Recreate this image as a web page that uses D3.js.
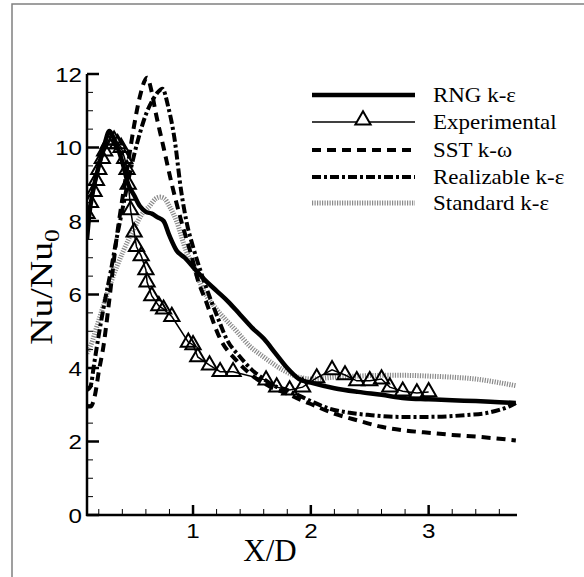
<!DOCTYPE html>
<html><head><meta charset="utf-8">
<script src="https://cdn.jsdelivr.net/npm/d3@7"></script>
<style>html,body{margin:0;padding:0;background:#fff;}svg{display:block;}</style>
</head><body>
<script>
// ---- data ----
const rngX = [0.10,0.12,0.15,0.20,0.25,0.29,0.32,0.36,0.40,0.45,0.50,0.55,0.60,0.65,0.70,0.75,0.80,0.86,0.93,1.00,1.10,1.20,1.30,1.40,1.50,1.60,1.70,1.80,1.90,2.00,2.20,2.40,2.60,2.80,3.00,3.20,3.40,3.60,3.74];
const rngY = [7.5,8.2,8.8,9.5,10.1,10.45,10.3,10.0,9.6,9.0,8.7,8.4,8.25,8.2,8.1,8.0,7.6,7.2,7.0,6.75,6.4,6.1,5.8,5.45,5.1,4.8,4.4,4.0,3.7,3.6,3.45,3.35,3.27,3.18,3.15,3.12,3.1,3.07,3.05];

const expX = [0.10,0.13,0.16,0.18,0.20,0.23,0.25,0.28,0.30,0.33,0.36,0.39,0.42,0.44,0.45,0.46,0.47,0.50,0.52,0.56,0.60,0.61,0.65,0.71,0.75,0.82,0.96,1.00,1.04,1.14,1.23,1.34,1.62,1.71,1.82,1.93,2.05,2.18,2.29,2.39,2.50,2.60,2.67,2.78,2.90,3.00];
const expY = [8.2,8.5,8.8,9.1,9.4,9.7,9.9,10.1,10.2,10.2,10.1,10.0,9.7,9.4,9.0,8.7,8.3,7.7,7.3,7.05,6.67,6.34,5.96,5.69,5.6,5.4,4.7,4.63,4.3,4.08,3.9,3.9,3.67,3.48,3.4,3.48,3.73,3.95,3.81,3.65,3.65,3.7,3.48,3.37,3.32,3.35];

const sstX = [0.10,0.13,0.17,0.20,0.24,0.28,0.32,0.35,0.40,0.45,0.50,0.55,0.61,0.65,0.68,0.75,0.82,0.90,1.00,1.04,1.10,1.23,1.37,1.50,1.65,1.80,1.90,2.00,2.18,2.40,2.60,2.80,3.03,3.20,3.45,3.74];
const sstY = [2.95,2.95,3.3,3.9,4.6,5.6,6.7,7.5,8.6,9.6,10.6,11.4,11.9,11.5,11.0,10.0,9.0,8.0,6.9,6.4,5.9,4.8,4.2,3.8,3.5,3.3,3.15,3.02,2.78,2.57,2.4,2.3,2.23,2.18,2.12,2.03];

const realX = [0.10,0.13,0.16,0.20,0.25,0.30,0.35,0.40,0.45,0.50,0.55,0.60,0.65,0.70,0.74,0.79,0.84,0.90,0.95,1.00,1.10,1.20,1.29,1.40,1.50,1.60,1.70,1.80,1.90,2.00,2.15,2.33,2.50,2.75,3.00,3.32,3.50,3.60,3.68,3.74];
const realY = [3.4,3.5,4.1,4.9,5.8,6.6,7.5,8.3,9.1,9.8,10.4,10.9,11.25,11.5,11.6,11.1,10.3,8.8,7.9,7.3,6.3,5.45,4.76,4.3,3.95,3.7,3.5,3.4,3.25,3.1,2.9,2.78,2.72,2.67,2.67,2.72,2.78,2.86,2.95,3.05];

const stdX = [0.10,0.13,0.20,0.30,0.41,0.50,0.57,0.63,0.68,0.72,0.76,0.80,0.86,0.94,1.00,1.09,1.20,1.37,1.48,1.60,1.76,1.90,2.00,2.20,2.40,2.60,2.80,3.00,3.20,3.40,3.60,3.74];
const stdY = [4.4,4.6,5.3,6.3,7.2,7.8,8.2,8.4,8.6,8.65,8.6,8.4,8.0,7.2,6.8,6.1,5.6,5.0,4.6,4.3,3.95,3.75,3.7,3.75,3.78,3.8,3.8,3.78,3.75,3.7,3.6,3.52];

const xTicks = [1,2,3];
const yTicks = [0,2,4,6,8,10,12];
const legendLabels = ["RNG k-ε","Experimental","SST k-ω","Realizable k-ε","Standard k-ε"];

// ---- drawing ----
const W = 584, H = 577;
const svg = d3.select("body").append("svg").attr("width", W).attr("height", H);

svg.append("path").attr("d", `M12,${H} L12,4 L${W},4`).attr("fill","none").attr("stroke","#808080").attr("stroke-width",1.5);

const x = d3.scaleLinear().domain([0.1, 3.75]).range([87, 517]);
const y = d3.scaleLinear().domain([0, 12]).range([515, 74]);

const clipId = "clip";
svg.append("clipPath").attr("id", clipId).append("rect").attr("x",87).attr("y",60).attr("width",440).attr("height",456);

const line = d3.line().x(d => x(d[0])).y(d => y(d[1])).curve(d3.curveMonotoneX);
const zip = (a, b) => a.map((v, i) => [v, b[i]]);

const g = svg.append("g").attr("clip-path", `url(#${clipId})`);

const styles = {
  std: {stroke:"#8a8a8a", width:5, dash:"1.2,1.3"},
  real:{stroke:"#000", width:4, dash:"9,3,3,3"},
  sst: {stroke:"#000", width:4, dash:"9,6"},
  rng: {stroke:"#000", width:4.5, dash:null},
  exp: {stroke:"#000", width:1.5, dash:null}
};
function drawLine(xs, ys, s) {
  g.append("path").datum(zip(xs, ys)).attr("d", line)
    .attr("fill","none").attr("stroke", s.stroke).attr("stroke-width", s.width)
    .attr("stroke-dasharray", s.dash);
}
drawLine(stdX, stdY, styles.std);
drawLine(realX, realY, styles.real);
drawLine(sstX, sstY, styles.sst);
drawLine(rngX, rngY, styles.rng);
g.append("path").datum(zip(expX, expY)).attr("d", d3.line().x(d=>x(d[0])).y(d=>y(d[1])))
  .attr("fill","none").attr("stroke","#000").attr("stroke-width",1.5);

const tri = d3.symbol().type(d3.symbolTriangle).size(100);
g.selectAll(".tri").data(zip(expX, expY)).enter().append("path")
  .attr("transform", d => `translate(${x(d[0])},${y(d[1])})`)
  .attr("d", tri).attr("fill","none").attr("stroke","#000").attr("stroke-width",2);

// axes
const axG = svg.append("g");
axG.append("line").attr("x1",87).attr("x2",87).attr("y1",y(12)).attr("y2",y(0)+1).attr("stroke","#000").attr("stroke-width",2.5);
axG.append("line").attr("x1",86).attr("x2",x(3.75)).attr("y1",y(0)).attr("y2",y(0)).attr("stroke","#000").attr("stroke-width",2.5);

d3.range(0, 12.01, 0.5).forEach(v => {
  const major = Math.abs(v % 2) < 1e-6;
  axG.append("line").attr("x1",87).attr("x2",87 + (major?12:6)).attr("y1",y(v)).attr("y2",y(v))
    .attr("stroke","#000").attr("stroke-width", major?2.5:1);
});
d3.range(0.2, 3.75, 0.2).forEach(v => {
  const major = Math.abs(v - Math.round(v)) < 1e-6;
  axG.append("line").attr("x1",x(v)).attr("x2",x(v)).attr("y1",y(0)).attr("y2",y(0) - (major?10:6))
    .attr("stroke","#000").attr("stroke-width", major?2.5:1);
});
const sans = "Liberation Sans, Arial, sans-serif";
const serif = "Liberation Serif, Times New Roman, serif";
axG.selectAll(".yl").data(yTicks).enter().append("text")
  .attr("transform", d => `translate(82,${y(d)}) scale(1.15,1)`).attr("dy","0.36em").attr("text-anchor","end")
  .attr("font-family",sans).attr("font-size",21).text(d => d);
axG.selectAll(".xl").data(xTicks).enter().append("text")
  .attr("transform", d => `translate(${x(d)},538) scale(1.15,1)`).attr("text-anchor","middle")
  .attr("font-family",sans).attr("font-size",21).text(d => d);

// axis titles
svg.append("text").attr("x", 270).attr("y", 561).attr("text-anchor","middle")
  .attr("font-family",serif).attr("font-size",31).text("X/D");
const yt = svg.append("text").attr("transform","translate(52,287) rotate(-90) scale(1.22,1)").attr("text-anchor","middle")
  .attr("font-family",serif).attr("font-size",31);
yt.append("tspan").text("Nu/Nu");
yt.append("tspan").attr("font-size",21).attr("dy",7).text("0");

// legend
const legStyles = [styles.rng, styles.exp, styles.sst, styles.real, styles.std];
const legY = [95,122,150,177,203];
const lg = svg.append("g");
legendLabels.forEach((lab, i) => {
  const s = legStyles[i];
  lg.append("line").attr("x1",312).attr("x2",415).attr("y1",legY[i]).attr("y2",legY[i])
    .attr("stroke", s.stroke).attr("stroke-width", s.width).attr("stroke-dasharray", s.dash);
  if (i === 1) {
    lg.append("path").attr("transform", `translate(363,${legY[i]-2})`).attr("d", tri)
      .attr("fill","#fff").attr("stroke","#000").attr("stroke-width",2);
  }
  lg.append("text").attr("transform", `translate(433,${legY[i]}) scale(1.12,1)`).attr("dy","0.35em")
    .attr("font-family",serif).attr("font-size",20.5).text(lab);
});
</script>
</body></html>
